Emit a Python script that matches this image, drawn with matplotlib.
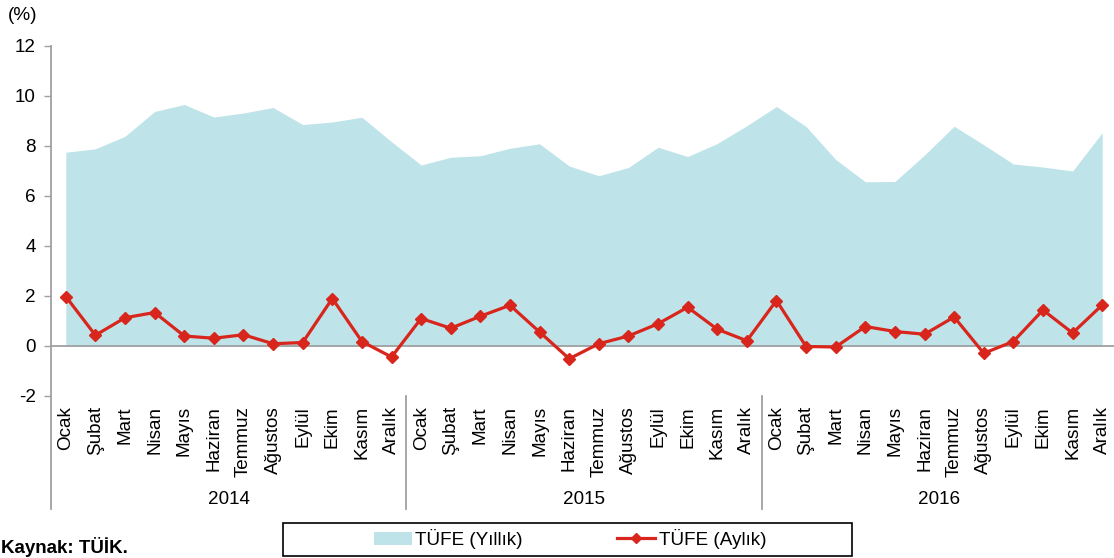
import matplotlib
matplotlib.use("Agg")
import matplotlib.pyplot as plt
import matplotlib.transforms as mtransforms
from matplotlib.patches import Rectangle, Patch
from matplotlib.lines import Line2D
import numpy as np

plt.rcParams['font.family'] = ['Liberation Sans', 'DejaVu Sans']

months = ["Ocak", "Şubat", "Mart", "Nisan", "Mayıs", "Haziran", "Temmuz",
          "Ağustos", "Eylül", "Ekim", "Kasım", "Aralık"]
years = ["2014", "2015", "2016"]

yearly = [7.75, 7.89, 8.39, 9.38, 9.66, 9.16, 9.32, 9.54, 8.86, 8.96, 9.15, 8.17,
          7.24, 7.55, 7.61, 7.91, 8.09, 7.20, 6.81, 7.14, 7.95, 7.58, 8.10, 8.81,
          9.58, 8.78, 7.46, 6.57, 6.58, 7.64, 8.79, 8.05, 7.28, 7.16, 7.00, 8.53]
monthly = [1.98, 0.43, 1.13, 1.34, 0.40, 0.31, 0.45, 0.09, 0.14, 1.90, 0.18, -0.44,
           1.10, 0.71, 1.19, 1.63, 0.56, -0.51, 0.09, 0.40, 0.89, 1.55, 0.67, 0.21,
           1.82, -0.02, -0.04, 0.78, 0.58, 0.47, 1.16, -0.29, 0.18, 1.44, 0.52, 1.64]

yticks = [-2, 0, 2, 4, 6, 8, 10, 12]

area_color = "#BEE4EA"
line_color = "#D8261C"
grey = "#A0A0A0"
fs = 13.6

W, H = 1114, 558
fig = plt.figure(figsize=(W / 100, H / 100), dpi=100)
ax = fig.add_axes([51 / W, 1 - 396 / H, (1117 - 51) / W, 350 / H])

x = np.arange(len(yearly))
ax.fill_between(x, 0, yearly, color=area_color, lw=0, zorder=1)
ax.axhline(0, color=grey, lw=1.3, zorder=2)
ax.plot(x, monthly, color=line_color, lw=2.3, marker='D', ms=6.5,
        markeredgecolor=line_color, zorder=3)

ax.set_xlim(-0.5, len(yearly) - 0.5)
ax.set_ylim(-2, 12)
ax.set_yticks(yticks)
ax.set_yticklabels([str(v) for v in yticks], fontsize=fs)
ax.tick_params(axis='y', direction='out', length=5, color=grey, width=1, pad=6)
ax.set_xticks([])
for s in ['top', 'right', 'bottom', 'left']:
    ax.spines[s].set_visible(False)

trans = mtransforms.blended_transform_factory(ax.transData, ax.transAxes)
bottom = -(509 - 396) / 350
# left axis line extended into category area
ax.add_line(Line2D([-0.5, -0.5], [1, bottom], transform=trans, color=grey,
                   lw=1.3, clip_on=False))
for b in [11.5, 23.5]:
    ax.add_line(Line2D([b, b], [0, bottom], transform=trans, color=grey,
                       lw=1.3, clip_on=False))

labels = months * len(years)
for i, lab in enumerate(labels):
    ax.text(i, -10 / 350, lab, transform=trans, rotation=90, ha='center',
            va='top', fontsize=fs)
for j, yr in enumerate(years):
    ax.text(j * 12 + 5.5, -(499 - 396) / 350, yr, transform=trans,
            ha='center', va='center', fontsize=fs)

fig.text(8 / W, 1 - 15 / H, "(%)", fontsize=fs, ha='left', va='center')
fig.text(1 / W, 1 - 557 / H, "Kaynak: TÜİK.", fontsize=13.5, fontweight='bold',
         ha='left', va='bottom')

# legend
fig.add_artist(Rectangle((283 / W, 1 - 556 / H), (852 - 283) / W, 33 / H,
                         transform=fig.transFigure, fill=False,
                         edgecolor='black', lw=1.2))
handles = [Patch(facecolor=area_color, edgecolor='none', label="TÜFE (Yıllık)"),
           Line2D([], [], color=line_color, lw=2.3, marker='D', ms=5,
                  label="TÜFE (Aylık)")]
fig.legend(handles=handles, loc='center', bbox_to_anchor=(570 / W, 1 - 539 / H),
           ncol=2, frameon=False, fontsize=fs, handlelength=2.0,
           handletextpad=0.2, columnspacing=5.0, borderpad=0)

fig.savefig("out.png", dpi=100)
